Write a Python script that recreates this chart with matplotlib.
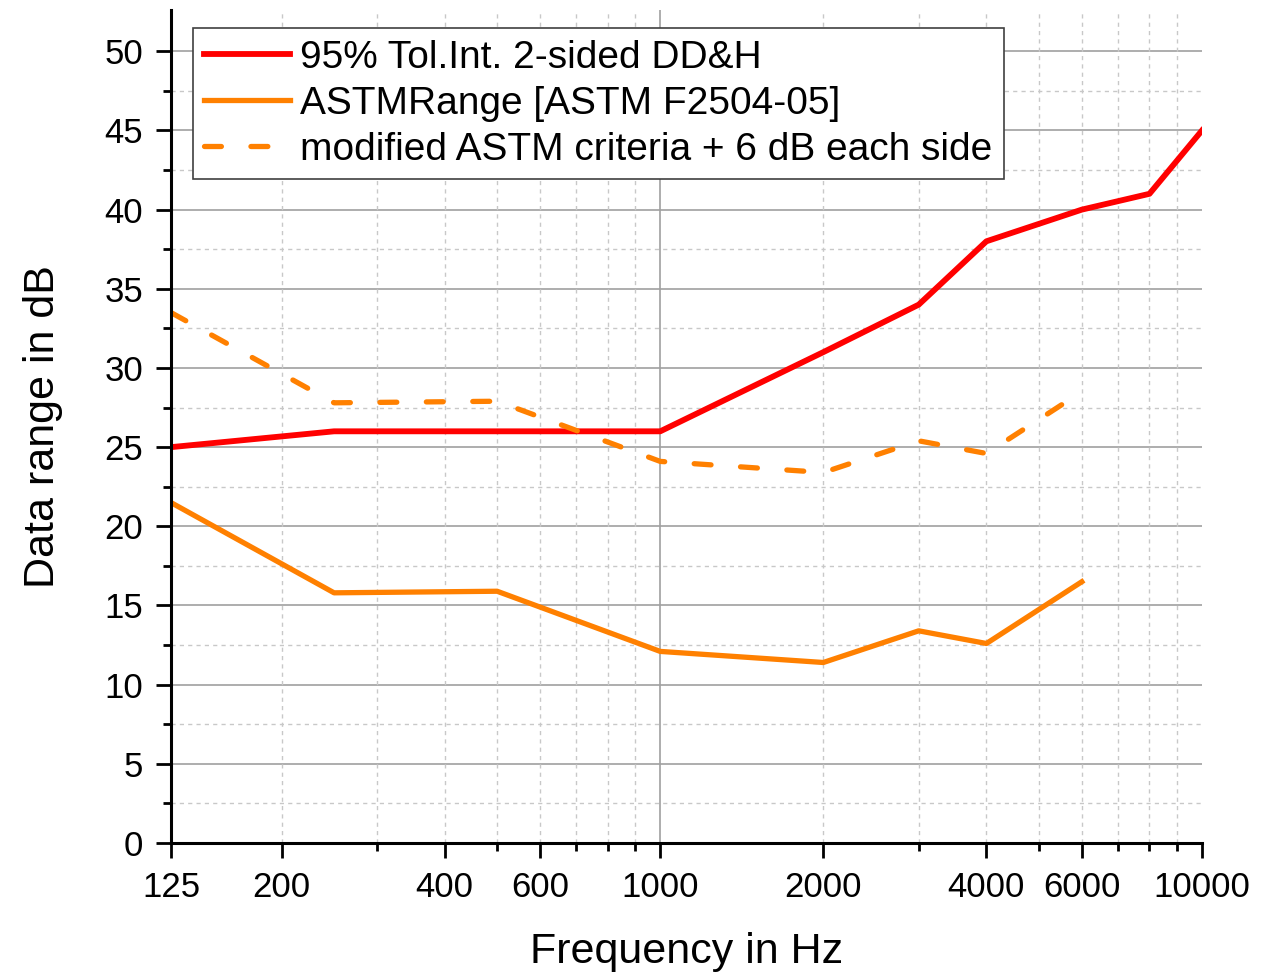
import numpy as np
import matplotlib.pyplot as plt
from matplotlib.ticker import FixedLocator, NullFormatter

plt.rcParams['font.family'] = ['Liberation Sans', 'DejaVu Sans']

freq_red = [125, 250, 500, 1000, 2000, 3000, 4000, 6000, 8000, 10000]
tol_int = [25, 26, 26, 26, 31, 34, 38, 40, 41, 45]

freq_astm = [125, 250, 500, 1000, 2000, 3000, 4000, 6000]
astm_range = [21.5, 15.8, 15.9, 12.1, 11.4, 13.4, 12.6, 16.5]
astm_mod = [33.5, 27.8, 27.9, 24.1, 23.4, 25.4, 24.6, 28.5]

xticks = [125, 200, 400, 600, 1000, 2000, 4000, 6000, 10000]
xminor = [300, 500, 700, 800, 900, 3000, 5000, 7000, 8000, 9000]

fig = plt.figure(figsize=(12.61, 9.73), dpi=100)
ax = fig.add_axes([0.1356, 0.1336, 0.8176, 0.856])

ax.set_xscale('log')
ax.set_xlim(125, 10000)
ax.set_ylim(0, 52.6)

# grid
for y in np.arange(5, 51, 5):
    ax.axhline(y, color='#a0a0a0', lw=1.2, zorder=0)
for y in np.arange(2.5, 51, 5):
    ax.axhline(y, color='#c8c8c8', lw=1.0, ls=(0, (3, 3)), zorder=0)
for x in [200, 300, 400, 500, 600, 700, 800, 900, 2000, 3000, 4000, 5000, 6000, 7000, 8000, 9000]:
    ax.axvline(x, color='#c8c8c8', lw=1.0, ls=(0, (3, 3)), zorder=0)
ax.axvline(1000, color='#a0a0a0', lw=1.2, zorder=0)

ax.plot(freq_red, tol_int, color='#ff0000', lw=4.2,
        label='95% Tol.Int. 2-sided DD&H')
ax.plot(freq_astm, astm_range, color='#ff8000', lw=3.8,
        label='ASTMRange [ASTM F2504-05]')
ax.plot(freq_astm, astm_mod, color='#ff8000', lw=3.8, ls=(0, (3.2, 5.6)),
        dash_capstyle='round', label='modified ASTM criteria + 6 dB each side')

ax.xaxis.set_major_locator(FixedLocator(xticks))
ax.xaxis.set_minor_locator(FixedLocator(xminor))
ax.xaxis.set_minor_formatter(NullFormatter())
ax.set_xticklabels([str(t) for t in xticks])
ax.set_yticks(np.arange(0, 51, 5))
ax.yaxis.set_minor_locator(FixedLocator(np.arange(2.5, 51, 5)))

ax.tick_params(which='major', length=11, width=2, labelsize=25, direction='out', pad=9)
ax.tick_params(which='minor', length=6, width=2, direction='out')

for s in ['top', 'right']:
    ax.spines[s].set_visible(False)
for s in ['left', 'bottom']:
    ax.spines[s].set_linewidth(2.2)

ax.set_xlabel('Frequency in Hz', fontsize=31, labelpad=20)
ax.set_ylabel('Data range in dB', fontsize=31, labelpad=30)

leg = ax.legend(loc='upper left', bbox_to_anchor=(0.021, 0.978), fontsize=28,
                frameon=True, fancybox=False, handlelength=2.2, handletextpad=0.25,
                borderpad=0.3, labelspacing=0.25, borderaxespad=0)
leg.get_frame().set_edgecolor('#404040')
leg.get_frame().set_linewidth(1.2)
leg.get_frame().set_alpha(1)

fig.savefig('out.png', dpi=100)
